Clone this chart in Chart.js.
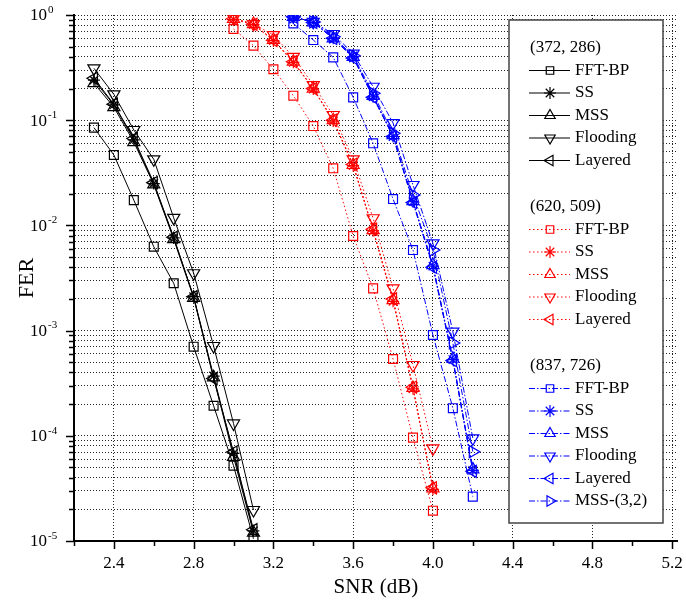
<!DOCTYPE html>
<html>
<head>
<meta charset="utf-8">
<script src="https://cdn.jsdelivr.net/npm/chart.js@4/dist/chart.umd.min.js"></script>
<style>
html, body { margin: 0; padding: 0; background: #fff; }
</style>
</head>
<body>
<canvas id="plot" width="686" height="607"></canvas>
<script>
// (372, 286) code
var snrBlack = [2.3, 2.4, 2.5, 2.6, 2.7, 2.8, 2.9, 3.0, 3.1];
var ferBlackFFT = [0.085, 0.0467, 0.0174, 0.00627, 0.00282, 0.000703, 0.000193, 5.2e-5, 1.05e-5];
var ferBlackSS = [0.24, 0.14, 0.065, 0.025, 0.0076, 0.0021, 0.00037, 6.8e-5, 1.25e-5];
var ferBlackMSS = [0.225, 0.133, 0.062, 0.0245, 0.0074, 0.00205, 0.00036, 6.3e-5, 1.2e-5];
var ferBlackFlood = [0.311, 0.176, 0.0807, 0.0425, 0.0118, 0.00351, 0.000714, 0.000131, 1.97e-5];
var ferBlackLayer = [0.25, 0.142, 0.067, 0.0255, 0.0077, 0.0021, 0.00035, 7.0e-5, 1.28e-5];

// (620, 509) code
var snrRed = [3.0, 3.1, 3.2, 3.3, 3.4, 3.5, 3.6, 3.7, 3.8, 3.9, 4.0];
var ferRedFFT = [0.736, 0.511, 0.305, 0.171, 0.088, 0.0349, 0.00793, 0.00252, 0.000537, 9.6e-5, 1.94e-5];
var ferRedSS = [0.91, 0.81, 0.57, 0.355, 0.198, 0.098, 0.037, 0.0089, 0.0019, 0.00028, 3.1e-5];
var ferRedMSS = [0.92, 0.82, 0.58, 0.36, 0.2, 0.1, 0.0375, 0.009, 0.00195, 0.000285, 3.17e-5];
var ferRedFlood = [0.93, 0.82, 0.645, 0.4, 0.216, 0.112, 0.0425, 0.0117, 0.00252, 0.000471, 7.6e-5];
var ferRedLayer = [0.92, 0.815, 0.575, 0.36, 0.2, 0.1, 0.038, 0.0092, 0.002, 0.00029, 3.2e-5];

// (837, 726) code
var snrBlue = [3.3, 3.4, 3.5, 3.6, 3.7, 3.8, 3.9, 4.0, 4.1, 4.2];
var ferBlueFFT = [0.83, 0.578, 0.396, 0.165, 0.0603, 0.0178, 0.00583, 0.000908, 0.000183, 2.64e-5];
var ferBlueSS = [0.96, 0.85, 0.6, 0.4, 0.167, 0.07, 0.0168, 0.0041, 0.00053, 4.7e-5];
var ferBlueMSS = [0.96, 0.85, 0.6, 0.4, 0.17, 0.072, 0.017, 0.0042, 0.00054, 4.8e-5];
var ferBlueFlood = [0.97, 0.86, 0.66, 0.43, 0.208, 0.094, 0.0242, 0.00676, 0.000977, 9.47e-5];
var ferBlueLayer = [0.96, 0.85, 0.6, 0.39, 0.165, 0.07, 0.0165, 0.004, 0.00052, 4.6e-5];
var ferBlueMSS32 = [0.96, 0.86, 0.62, 0.41, 0.18, 0.075, 0.0195, 0.00583, 0.000762, 7.06e-5];

var groups = ['(372, 286)', '(620, 509)', '(837, 726)'];
var xTicks = [2.2, 2.4, 2.6, 2.8, 3.0, 3.2, 3.4, 3.6, 3.8, 4.0, 4.2, 4.4, 4.6, 4.8, 5.0, 5.2];
var decades = [-5, -4, -3, -2, -1, 0];

var serif = "'Liberation Serif', 'Times New Roman', serif";
Chart.defaults.font.family = serif;
Chart.defaults.color = '#000';

var solid = [], dotted = [1.5, 2.5], dashdot = [6, 2, 1.5, 2];

var mk = function(label, group, xs, ys, color, dash, style, rot, r){
    return {
        label: label,
        group: group,
        data: xs.map(function(x, i){ return {x: x, y: ys[i]}; }),
        borderColor: color,
        backgroundColor: 'rgba(0,0,0,0)',
        borderWidth: 1,
        borderDash: dash,
        pointStyle: style,
        rotation: rot,
        pointRadius: r,
        pointBorderWidth: 1.2,
        pointBorderColor: color,
        pointBackgroundColor: 'rgba(0,0,0,0)',
        tension: 0
    };
};

var datasets = [
    mk('FFT-BP', 0, snrBlack, ferBlackFFT, '#000', solid, 'rect', 0, 6.3),
    mk('SS', 0, snrBlack, ferBlackSS, '#000', solid, 'star', 0, 6),
    mk('MSS', 0, snrBlack, ferBlackMSS, '#000', solid, 'triangle', 0, 7),
    mk('Flooding', 0, snrBlack, ferBlackFlood, '#000', solid, 'triangle', 180, 7),
    mk('Layered', 0, snrBlack, ferBlackLayer, '#000', solid, 'triangle', 270, 7),

    mk('FFT-BP', 1, snrRed, ferRedFFT, '#ff0000', dotted, 'rect', 0, 6.3),
    mk('SS', 1, snrRed, ferRedSS, '#ff0000', dotted, 'star', 0, 6),
    mk('MSS', 1, snrRed, ferRedMSS, '#ff0000', dotted, 'triangle', 0, 7),
    mk('Flooding', 1, snrRed, ferRedFlood, '#ff0000', dotted, 'triangle', 180, 7),
    mk('Layered', 1, snrRed, ferRedLayer, '#ff0000', dotted, 'triangle', 270, 7),

    mk('FFT-BP', 2, snrBlue, ferBlueFFT, '#0000ff', dashdot, 'rect', 0, 6.3),
    mk('SS', 2, snrBlue, ferBlueSS, '#0000ff', dashdot, 'star', 0, 6),
    mk('MSS', 2, snrBlue, ferBlueMSS, '#0000ff', dashdot, 'triangle', 0, 7),
    mk('Flooding', 2, snrBlue, ferBlueFlood, '#0000ff', dashdot, 'triangle', 180, 7),
    mk('Layered', 2, snrBlue, ferBlueLayer, '#0000ff', dashdot, 'triangle', 270, 7),
    mk('MSS-(3,2)', 2, snrBlue, ferBlueMSS32, '#0000ff', dashdot, 'triangle', 90, 7)
];

var drawMarker = function(ctx, style, rot, r, x, y){
    ctx.save();
    ctx.translate(x, y);
    ctx.rotate(rot * Math.PI / 180);
    ctx.beginPath();
    if (style === 'rect') {
        var s = r * Math.SQRT1_2;
        ctx.rect(-s, -s, 2 * s, 2 * s);
    } else if (style === 'triangle') {
        for (var i = 0; i < 3; i++) {
            var a = i * 2 * Math.PI / 3;
            if (i === 0) ctx.moveTo(Math.sin(a) * r, -Math.cos(a) * r);
            else ctx.lineTo(Math.sin(a) * r, -Math.cos(a) * r);
        }
        ctx.closePath();
    } else {
        for (var k = 0; k < 4; k++) {
            var b = k * Math.PI / 4;
            ctx.moveTo(Math.cos(b) * r, Math.sin(b) * r);
            ctx.lineTo(-Math.cos(b) * r, -Math.sin(b) * r);
        }
    }
    ctx.stroke();
    ctx.restore();
};

// tick marks, superscript y labels and the grouped legend
var decor = {
    id: 'decor',
    afterDraw: function(chart){
        var ctx = chart.ctx, xs = chart.scales.x, ys = chart.scales.y, area = chart.chartArea;
        ctx.save();
        ctx.strokeStyle = '#000';
        ctx.lineWidth = 1.5;
        ctx.setLineDash([]);
        ctx.beginPath();
        xTicks.forEach(function(v){
            var px = Math.round(xs.getPixelForValue(v)) + 0.5;
            var major = Math.round(v * 10) % 4 === 0;
            ctx.moveTo(px, area.bottom);
            ctx.lineTo(px, area.bottom + (major ? 8 : 5));
        });
        decades.forEach(function(e){
            for (var m = 1; m <= 9; m++) {
                if (e === 0 && m > 1) break;
                var py = Math.round(ys.getPixelForValue(m * Math.pow(10, e))) + 0.5;
                ctx.moveTo(area.left, py);
                ctx.lineTo(area.left - (m === 1 ? 8 : 5), py);
            }
        });
        ctx.stroke();

        ctx.fillStyle = '#000';
        ctx.textBaseline = 'middle';
        decades.forEach(function(e){
            var py = ys.getPixelForValue(Math.pow(10, e));
            ctx.font = '17px ' + serif;
            ctx.textAlign = 'right';
            ctx.fillText('10', 47, py + 1);
            ctx.font = '11px ' + serif;
            ctx.textAlign = 'left';
            ctx.fillText(e === 0 ? '0' : '-' + (-e), 48, py - 5);
        });

        // legend box
        ctx.fillStyle = '#fff';
        ctx.fillRect(509, 20, 154, 503);
        ctx.strokeStyle = '#444';
        ctx.lineWidth = 1.5;
        ctx.strokeRect(509, 20, 154, 503);

        var y = 48;
        groups.forEach(function(name, g){
            ctx.fillStyle = '#000';
            ctx.font = '17px ' + serif;
            ctx.textAlign = 'left';
            ctx.fillText(name, 530, y);
            y += 22.5;
            chart.data.datasets.forEach(function(ds){
                if (ds.group !== g) return;
                ctx.strokeStyle = ds.borderColor;
                ctx.lineWidth = 1;
                ctx.setLineDash(ds.borderDash);
                ctx.beginPath();
                ctx.moveTo(529, y);
                ctx.lineTo(570, y);
                ctx.stroke();
                ctx.setLineDash([]);
                ctx.lineWidth = 1.2;
                drawMarker(ctx, ds.pointStyle, ds.rotation, ds.pointStyle === 'rect' ? 5.3 : 6, 550, y);
                ctx.fillStyle = '#000';
                ctx.fillText(ds.label, 575, y);
                y += 22.5;
            });
            y += 24;
        });
        ctx.restore();
    }
};

var ctx = document.getElementById('plot').getContext('2d');
var chart = new Chart(ctx, {
    type: 'line',
    data: { datasets: datasets },
    options: {
        responsive: false,
        animation: false,
        devicePixelRatio: 1,
        layout: { padding: { top: 15, right: 0, left: 0, bottom: 0 } },
        plugins: { legend: { display: false }, tooltip: { enabled: false } },
        scales: {
            x: {
                type: 'linear',
                min: 2.2,
                max: 5.228,
                afterBuildTicks: function(s){ s.ticks = xTicks.map(function(v){ return {value: v}; }); },
                afterFit: function(s){ s.height = 66; s.paddingLeft = 0; s.paddingRight = 0; },
                ticks: {
                    autoSkip: false,
                    maxRotation: 0,
                    padding: 12,
                    font: { size: 17 },
                    callback: function(v){
                        var t = Math.round(v * 10);
                        return (t % 4 === 0) ? Number(v).toFixed(1) : '';
                    }
                },
                grid: {
                    drawTicks: false,
                    lineWidth: 1,
                    color: function(c){
                        var t = Math.round(c.tick.value * 10);
                        return (t % 4 === 0) ? '#222' : 'rgba(0,0,0,0)';
                    }
                },
                border: { display: true, color: '#000', width: 2, dash: [1, 2] },
                title: { display: true, text: 'SNR (dB)', font: { size: 21 }, padding: { top: 0, bottom: 7 } }
            },
            y: {
                type: 'logarithmic',
                min: 1e-5,
                max: 1,
                afterBuildTicks: function(s){
                    var t = [];
                    decades.forEach(function(e){
                        for (var m = 1; m <= 9; m++) {
                            if (e === 0 && m > 1) break;
                            t.push({value: m * Math.pow(10, e), major: m === 1});
                        }
                    });
                    s.ticks = t;
                },
                afterFit: function(s){ s.width = 74; s.paddingTop = 0; s.paddingBottom = 0; },
                ticks: { display: false },
                grid: { drawTicks: false, lineWidth: 1, color: '#222' },
                border: { display: true, color: '#000', width: 2, dash: [1, 2] },
                title: { display: true, text: 'FER', font: { size: 22 }, padding: { top: 14, bottom: 0 } }
            }
        }
    },
    plugins: [decor]
});
</script>
</body>
</html>
